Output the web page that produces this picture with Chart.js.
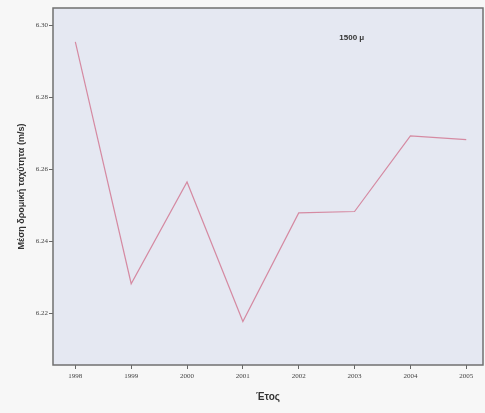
<!DOCTYPE html>
<html>
<head>
<meta charset="utf-8">
<script src="https://cdn.jsdelivr.net/npm/chart.js@4.4.1/dist/chart.umd.min.js"></script>
<style>
  html, body { margin: 0; padding: 0; background: #f7f7f7; }
  #wrap { width: 485px; height: 413px; }
</style>
</head>
<body>
<div id="wrap"><canvas id="myChart" width="485" height="413"></canvas></div>
<script>
// data
const years = [1998, 1999, 2000, 2001, 2002, 2003, 2004, 2005];
const speeds = [6.2955, 6.2282, 6.2565, 6.2177, 6.2479, 6.2483, 6.2693, 6.2683];
const yTicks = [6.22, 6.24, 6.26, 6.28, 6.30];
const noteText = '1500 μ';

const ctx = document.getElementById('myChart').getContext('2d');

const plotBox = {
  id: 'plotBox',
  beforeDraw(chart) {
    const a = chart.chartArea;
    const c = chart.ctx;
    c.save();
    c.fillStyle = '#e5e8f2';
    c.fillRect(a.left, a.top, a.right - a.left, a.bottom - a.top);
    c.restore();
  },
  afterDraw(chart) {
    const a = chart.chartArea;
    const c = chart.ctx;
    c.save();
    c.strokeStyle = '#707070';
    c.lineWidth = 1.5;
    c.strokeRect(a.left, a.top, a.right - a.left, a.bottom - a.top);
    // note label
    const xs = chart.scales.x, ys = chart.scales.y;
    c.fillStyle = '#333';
    c.font = 'bold 8px "Liberation Sans", Arial, sans-serif';
    c.textAlign = 'center';
    c.textBaseline = 'middle';
    c.fillText(noteText, xs.getPixelForValue(2002.95), ys.getPixelForValue(6.2966));
    c.restore();
  }
};

const myChart = new Chart(ctx, {
    type: 'line',
    data: {
        datasets: [{
            data: years.map((y, i) => ({x: y, y: speeds[i]})),
            borderColor: '#d58aa2',
            borderWidth: 1.2,
            pointRadius: 0,
            tension: 0,
            fill: false
        }]
    },
    options: {
        responsive: false,
        animation: false,
        layout: { padding: { top: 8, right: 2, left: 0, bottom: 0 } },
        plugins: {
            legend: { display: false },
            tooltip: { enabled: false }
        },
        scales: {
            x: {
                type: 'linear',
                min: 1997.6,
                max: 2005.3,
                grid: { drawOnChartArea: false, drawTicks: true, tickLength: 4, color: '#666' },
                border: { display: false },
                afterBuildTicks: (s) => { s.ticks = years.map(v => ({value: v})); },
                ticks: {
                    autoSkip: false,
                    maxRotation: 0,
                    padding: 3,
                    color: '#444',
                    font: { size: 7, family: 'Liberation Serif' },
                    callback: (v) => String(v)
                },
                title: {
                    display: true,
                    text: 'Έτος',
                    color: '#333',
                    padding: { top: 4, bottom: 10 },
                    font: { size: 10, weight: 'bold', family: 'Liberation Sans' }
                },
                afterFit: (s) => { s.height = 48; }
            },
            y: {
                min: 6.2056,
                max: 6.3049,
                grid: { drawOnChartArea: false, drawTicks: true, tickLength: 4, color: '#666' },
                border: { display: false },
                afterBuildTicks: (s) => { s.ticks = yTicks.map(v => ({value: v})); },
                ticks: {
                    padding: 1,
                    color: '#444',
                    font: { size: 7, family: 'Liberation Serif' },
                    callback: (v) => v.toFixed(2)
                },
                title: {
                    display: true,
                    text: 'Μέση δρομική ταχύτητα (m/s)',
                    color: '#333',
                    padding: { top: 16, bottom: 6 },
                    font: { size: 9, weight: 'bold', family: 'Liberation Sans' }
                },
                afterFit: (s) => { s.width = 53; }
            }
        }
    },
    plugins: [plotBox]
});
</script>
</body>
</html>
